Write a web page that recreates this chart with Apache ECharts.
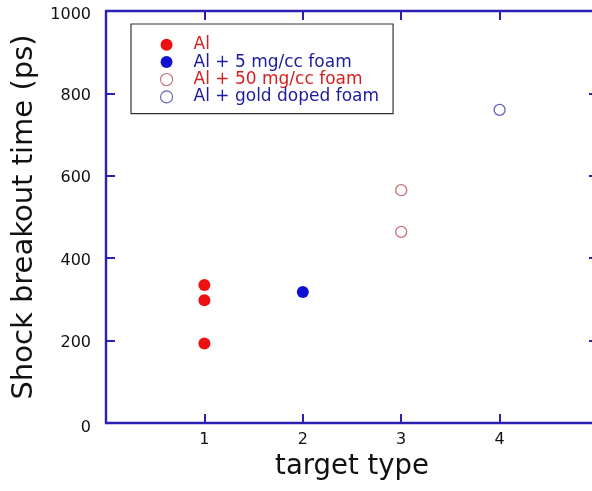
<!DOCTYPE html>
<html>
<head>
<meta charset="utf-8">
<script src="https://cdn.jsdelivr.net/npm/echarts@6/dist/echarts.min.js"></script>
<style>
  html, body { margin: 0; padding: 0; background: #fff; }
  #chart { width: 592px; height: 491px; }
</style>
</head>
<body>
<div id="chart"></div>
<script>
// Shock breakout time per target type
const seriesNames = ['Al', 'Al + 5 mg/cc foam', 'Al + 50 mg/cc foam', 'Al + gold doped foam'];
const alPoints = [[1, 335], [1, 298], [1, 193]];
const al5Points = [[2, 318]];
const al50Points = [[3, 565], [3, 464]];
const alGoldPoints = [[4, 760]];
const xTickLabels = ['', '1', '2', '3', '4', ''];
const yTickLabels = ['0', '200', '400', '600', '800', '1000'];

const AXIS = '#2a20b4';
const FONT = 'DejaVu Sans, Arial, sans-serif';

const chart = echarts.init(document.getElementById('chart'), null, { renderer: 'canvas' });

const tickCommon = { show: true, inside: true, length: 9, lineStyle: { color: AXIS, width: 2 } };
const lineCommon = { show: true, onZero: false, lineStyle: { color: AXIS, width: 2.4 } };

chart.setOption({
  animation: false,
  backgroundColor: '#ffffff',
  grid: { left: 106, top: 11, width: 492, height: 412, containLabel: false, outerBoundsMode: 'none' },
  xAxis: [
    {
      type: 'value', min: 0, max: 5, interval: 1, position: 'bottom',
      axisLine: lineCommon, axisTick: tickCommon, splitLine: { show: false },
      axisLabel: {
        margin: 9, fontSize: 16, color: '#111', fontFamily: FONT,
        formatter: v => xTickLabels[Math.round(v)]
      },
      name: 'target type', nameLocation: 'middle', nameGap: 27,
      nameTextStyle: { fontSize: 27.5, color: '#111', fontFamily: FONT }
    },
    {
      type: 'value', min: 0, max: 5, interval: 1, position: 'top',
      axisLine: lineCommon, axisTick: tickCommon, splitLine: { show: false },
      axisLabel: { show: false }
    }
  ],
  yAxis: [
    {
      type: 'value', min: 0, max: 1000, interval: 200, position: 'left',
      axisLine: lineCommon, axisTick: tickCommon, splitLine: { show: false },
      axisLabel: {
        margin: 15, fontSize: 16, color: '#111', fontFamily: FONT,
        formatter: v => {
          const i = Math.round(v / 200);
          if (i === 0) return '{zero|' + yTickLabels[i] + '}';
          if (i === 5) return '{top|' + yTickLabels[i] + '}';
          return '{mid|' + yTickLabels[i] + '}';
        },
        rich: {
          zero: { fontSize: 16, fontFamily: FONT, color: '#111', padding: [10, 0, 0, 0] },
          top: { fontSize: 16, fontFamily: FONT, color: '#111', padding: [8, 0, 0, 0] },
          mid: { fontSize: 16, fontFamily: FONT, color: '#111', padding: [5, 0, 0, 0] }
        }
      },
      name: 'Shock breakout time (ps)', nameLocation: 'middle', nameGap: 58,
      nameTextStyle: { fontSize: 29, color: '#111', fontFamily: FONT }
    },
    {
      type: 'value', min: 0, max: 1000, interval: 200, position: 'right',
      axisLine: lineCommon, axisTick: tickCommon, splitLine: { show: false },
      axisLabel: { show: false }
    }
  ],
  legend: {
    orient: 'vertical',
    left: 131, top: 24,
    padding: [12, 14, 8, 29],
    itemWidth: 12, itemHeight: 12, itemGap: 0,
    borderColor: '#333', borderWidth: 1.2,
    textStyle: { fontSize: 17, fontFamily: FONT, lineHeight: 17.4, padding: [0, 0, 0, 16] },
    data: [
      { name: seriesNames[0], icon: 'circle', itemStyle: { color: '#ec1010' }, textStyle: { color: '#d81e1e' } },
      { name: seriesNames[1], icon: 'circle', itemStyle: { color: '#1010d0' }, textStyle: { color: '#1c1c9c' } },
      { name: seriesNames[2], icon: 'circle', itemStyle: { color: '#ffffff', borderColor: '#c67078', borderWidth: 1.1 }, textStyle: { color: '#d81e1e' } },
      { name: seriesNames[3], icon: 'circle', itemStyle: { color: '#ffffff', borderColor: '#6262b6', borderWidth: 1.1 }, textStyle: { color: '#1c1c9c' } }
    ]
  },
  series: [
    { name: seriesNames[0], type: 'scatter', data: alPoints, symbol: 'circle', symbolSize: 12,
      itemStyle: { color: '#ec1010', opacity: 1 } },
    { name: seriesNames[1], type: 'scatter', data: al5Points, symbol: 'circle', symbolSize: 12,
      itemStyle: { color: '#1010d0', opacity: 1 } },
    { name: seriesNames[2], type: 'scatter', data: al50Points, symbol: 'circle', symbolSize: 11,
      itemStyle: { color: '#ffffff', borderColor: '#c67078', borderWidth: 1.3, opacity: 1 } },
    { name: seriesNames[3], type: 'scatter', data: alGoldPoints, symbol: 'circle', symbolSize: 11,
      itemStyle: { color: '#ffffff', borderColor: '#6262b6', borderWidth: 1.3, opacity: 1 } }
  ]
});
</script>
</body>
</html>
